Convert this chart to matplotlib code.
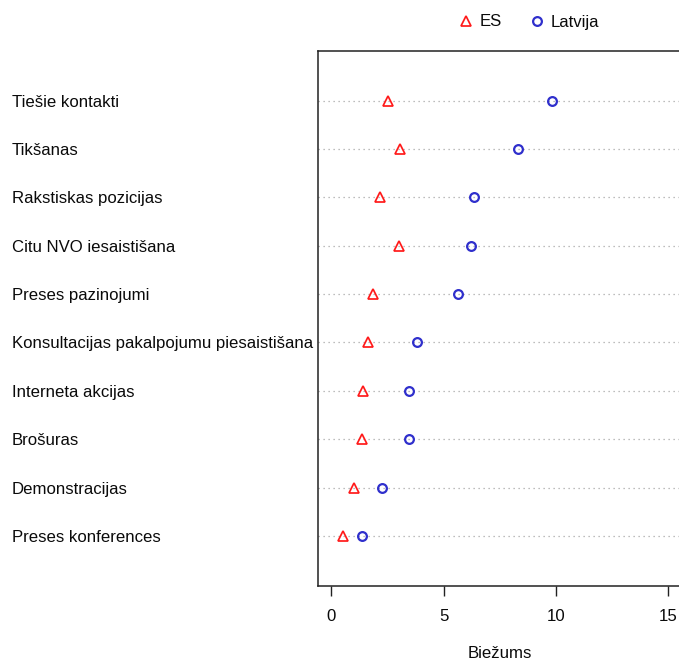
import matplotlib
matplotlib.use("Agg")
import matplotlib.pyplot as plt
import matplotlib.transforms as mtransforms
from matplotlib.lines import Line2D

categories = ["Tiešie kontakti", "Tikšanas", "Rakstiskas pozicijas",
              "Citu NVO iesaistišana", "Preses pazinojumi",
              "Konsultacijas pakalpojumu piesaistišana", "Interneta akcijas",
              "Brošuras", "Demonstracijas", "Preses konferences"]
es = [2.54, 3.07, 2.18, 3.03, 1.84, 1.62, 1.40, 1.35, 1.00, 0.52]
latvija = [9.85, 8.30, 6.34, 6.24, 5.66, 3.83, 3.46, 3.45, 2.27, 1.35]
xticks = [0, 5, 10, 15]
series_names = ["ES", "Latvija"]
xlabel = "Biežums"

plt.rcParams['font.family'] = ['Liberation Sans', 'DejaVu Sans']
FS = 12.1
TXT = '#0a0a0a'
RED = '#ff1a1a'
BLUE = '#2f2fcc'

fig = plt.figure(figsize=(6.79, 6.61), dpi=100)
ax = fig.add_axes([0.468, 0.1139, 0.5357, 0.8094])

n = len(categories)
ypos = [n - i for i in range(n)]

for y in ypos:
    ax.axhline(y, color='#a8a8a8', lw=0.9, ls=(0, (1, 3)), zorder=1)

ax.plot(es, ypos, ls='none', marker='^', ms=7.5, mfc='none', mec=RED,
        mew=1.25, zorder=3)
ax.plot(latvija, ypos, ls='none', marker='o', ms=6.3, mfc='none', mec=BLUE,
        mew=1.6, zorder=3)

ax.set_xlim(-0.6, 15.6)
ax.set_ylim(-0.03, 11.03)
ax.set_xticks(xticks)
ax.set_xticklabels([str(t) for t in xticks], fontsize=FS, color=TXT)
ax.tick_params(axis='x', length=7, width=1, pad=10, color='#222222')
ax.set_yticks([])
for s in ax.spines.values():
    s.set_linewidth(1.1)
    s.set_color('#222222')

label_tr = mtransforms.blended_transform_factory(fig.transFigure, ax.transData) + \
    mtransforms.ScaledTranslation(0, -1.5 / 100, fig.dpi_scale_trans)
for y, c in zip(ypos, categories):
    ax.text(12 / 679, y, c, transform=label_tr, fontsize=FS,
            ha='left', va='center', color=TXT)

fig.text(500 / 679, 1 - 654 / 661, xlabel, ha='center', va='center', fontsize=FS,
         color=TXT)

handles = [Line2D([], [], ls='none', marker='^', ms=7.5, mfc='none', mec=RED, mew=1.25),
           Line2D([], [], ls='none', marker='o', ms=6.3, mfc='none', mec=BLUE, mew=1.6)]
leg = fig.legend(handles, series_names, loc='center', bbox_to_anchor=(528 / 679, 1 - 22 / 661),
                 ncol=2, frameon=False, fontsize=FS, handlelength=1.0, handletextpad=0.3,
                 columnspacing=1.6)
for t in leg.get_texts():
    t.set_color(TXT)

fig.savefig("out.png", dpi=100)
